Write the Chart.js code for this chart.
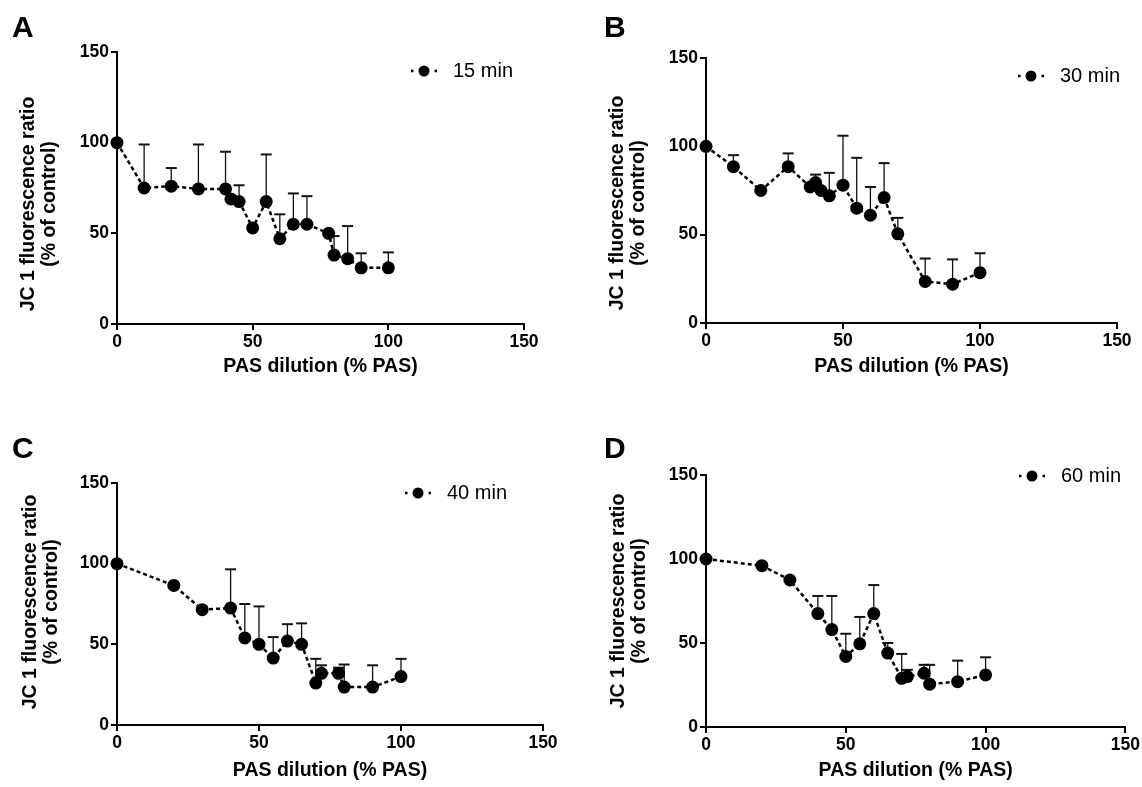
<!DOCTYPE html>
<html>
  <head>
    <title>JC 1 fluorescence ratio vs PAS dilution</title>
    <script src="https://cdn.jsdelivr.net/npm/chart.js@4.4.0/dist/chart.umd.min.js"></script>
    <style>
      body { margin: 0; background: #fff; }
      #wrap { position: relative; width: 1142px; height: 787px; }
      canvas { position: absolute; }
      .lbl { position: absolute; font: bold 30px "Liberation Sans", Arial, sans-serif; line-height: 30px; color: #000; }
    </style>
  </head>
  <body>
    <div id="wrap">
      <canvas id="chartA" width="571" height="393" style="left:0;top:0"></canvas>
      <canvas id="chartB" width="571" height="393" style="left:571px;top:0"></canvas>
      <canvas id="chartC" width="571" height="394" style="left:0;top:393px"></canvas>
      <canvas id="chartD" width="571" height="394" style="left:571px;top:393px"></canvas>
      <div class="lbl" style="left:12px;top:12px">A</div>
      <div class="lbl" style="left:604px;top:12px">B</div>
      <div class="lbl" style="left:12px;top:433px">C</div>
      <div class="lbl" style="left:604px;top:433px">D</div>
    </div>
    <script>
      // values (x = % PAS, y = % of control, err = upper error bar)
      var aX = [0, 10, 20, 30, 40, 42, 45, 50, 55, 60, 65, 70, 78, 80, 85, 90, 100];
      var aY = [100, 75, 76, 74.5, 74.5, 69, 67.5, 53, 67.5, 47, 55, 55, 50, 38, 36, 31, 31];
      var aErr = [null, 24, 10, 24.5, 20.5, null, 9, null, 26, 13.5, 17, 15.5, null, 10.5, 18, 8, 8.5];

      var bX = [0, 10, 20, 30, 38, 40, 42, 45, 50, 55, 60, 65, 70, 80, 90, 100];
      var bY = [100, 88.5, 75, 88.5, 77, 79.5, 75, 72, 78, 65, 61, 71, 50.5, 23.5, 22, 28.5];
      var bErr = [null, 6.5, null, 7.5, null, 4.5, null, 13, 28, 28.5, 16, 19.5, 9, 13, 14, 11];

      var cX = [0, 20, 30, 40, 45, 50, 55, 60, 65, 70, 72, 78, 80, 90, 100];
      var cY = [100, 86.5, 71.5, 72.5, 54, 50, 41.5, 52, 50, 26, 32, 32, 23.5, 23.5, 30];
      var cErr = [null, null, null, 24, 21, 23.5, 13, 10.5, 13, 15, 5, 3.5, 14, 13.5, 11];

      var dX = [0, 20, 30, 40, 45, 50, 55, 60, 65, 70, 72, 78, 80, 90, 100];
      var dY = [100, 96, 87.5, 67.5, 58, 42, 49.5, 67.5, 44, 29, 30, 32, 25.5, 27, 31];
      var dErr = [null, null, null, 10.5, 20, 13.5, 16, 17, 6, 14.5, 4, 5, 11.5, 12.5, 10.5];

      var xTicks = [0, 50, 100, 150];
      var yTicks = [0, 50, 100, 150];
      var yTitleLines = ["JC 1 fluorescence ratio", "(% of control)"];

      var FONT = "'Liberation Sans', Arial, sans-serif";

      function makePanel(id, xs, ys, errs, label, box) {
        var points = xs.map(function (x, i) {
          return { x: x, y: ys[i] };
        });

        // upward error bars, drawn under the points
        var errorBars = {
          id: "errorBars",
          beforeDatasetsDraw: function (chart) {
            var ctx = chart.ctx;
            var sx = chart.scales.x, sy = chart.scales.y;
            var ds = chart.data.datasets[0];
            ctx.save();
            ctx.strokeStyle = "#111";
            ds.data.forEach(function (p, i) {
              var e = ds.errors[i];
              if (e == null) return;
              var px = sx.getPixelForValue(p.x);
              var py = sy.getPixelForValue(p.y);
              var top = sy.getPixelForValue(p.y + e);
              ctx.lineWidth = 1.3;
              ctx.beginPath();
              ctx.moveTo(px, py);
              ctx.lineTo(px, top);
              ctx.stroke();
              ctx.lineWidth = 2;
              ctx.beginPath();
              ctx.moveTo(px - 5.5, top);
              ctx.lineTo(px + 5.5, top);
              ctx.stroke();
            });
            ctx.restore();
          },
        };

        // legend sample and rotated y title
        var extras = {
          id: "extras",
          afterDraw: function (chart) {
            var ctx = chart.ctx;
            ctx.save();
            ctx.strokeStyle = "#000";
            ctx.lineWidth = 2.5;
            ctx.setLineDash([2.5, 21]);
            ctx.beginPath();
            ctx.moveTo(box.legX - 13, box.legY);
            ctx.lineTo(box.legX + 13, box.legY);
            ctx.stroke();
            ctx.setLineDash([]);
            ctx.fillStyle = "#000";
            ctx.beginPath();
            ctx.arc(box.legX, box.legY, 5.5, 0, Math.PI * 2);
            ctx.fill();
            ctx.font = "20px " + FONT;
            ctx.textBaseline = "middle";
            ctx.textAlign = "left";
            ctx.fillText(label, box.legX + 29, box.legY);

            ctx.font = "bold 19.5px " + FONT;
            ctx.textAlign = "center";
            yTitleLines.forEach(function (t, i) {
              ctx.save();
              ctx.translate(box.yTitle + i * 21, box.yMid);
              ctx.rotate(-Math.PI / 2);
              ctx.fillText(t, 0, 0);
              ctx.restore();
            });
            ctx.restore();
          },
        };

        return new Chart(document.getElementById(id), {
          type: "line",
          data: {
            datasets: [
              {
                label: label,
                data: points,
                errors: errs,
                borderColor: "#000",
                borderWidth: 2.5,
                borderDash: [4, 3],
                backgroundColor: "#000",
                pointBackgroundColor: "#000",
                pointBorderWidth: 0,
                pointRadius: 6.5,
                tension: 0,
                clip: false,
              },
            ],
          },
          options: {
            responsive: false,
            animation: false,
            layout: {
              padding: { left: 0, top: box.top, right: box.w - box.right, bottom: 0 },
            },
            plugins: {
              legend: { display: false },
              tooltip: { enabled: false },
            },
            scales: {
              x: {
                type: "linear",
                min: 0,
                max: 150,
                afterBuildTicks: function (s) {
                  s.ticks = xTicks.map(function (v) { return { value: v }; });
                },
                afterFit: function (s) {
                  s.height = box.h - box.bottom;
                },
                grid: { drawOnChartArea: false, drawTicks: true, tickLength: 6, color: "#000", lineWidth: 2 },
                border: { display: true, color: "#000", width: 2 },
                ticks: { color: "#000", padding: 2, font: { family: FONT, size: 17.5, weight: "bold" } },
                title: {
                  display: true,
                  text: "PAS dilution (% PAS)",
                  color: "#000",
                  font: { family: FONT, size: 19.5, weight: "bold", lineHeight: 1.1 },
                  padding: { top: 0, bottom: box.h - box.xTitleY - 10.7 },
                },
              },
              y: {
                type: "linear",
                min: 0,
                max: 150,
                afterBuildTicks: function (s) {
                  s.ticks = yTicks.map(function (v) { return { value: v }; });
                },
                afterFit: function (s) {
                  s.width = box.left;
                },
                grid: { drawOnChartArea: false, drawTicks: true, tickLength: 6, color: "#000", lineWidth: 2 },
                border: { display: true, color: "#000", width: 2 },
                ticks: { color: "#000", padding: 2, font: { family: FONT, size: 17.5, weight: "bold" } },
              },
            },
          },
          plugins: [errorBars, extras],
        });
      }

      makePanel("chartA", aX, aY, aErr, "15 min",
        { w: 571, h: 393, left: 117, right: 524, top: 52, bottom: 324, legX: 424, legY: 71, yTitle: 29, yMid: 204, xTitleY: 367 });
      makePanel("chartB", bX, bY, bErr, "30 min",
        { w: 571, h: 393, left: 135, right: 546, top: 58, bottom: 323, legX: 460, legY: 76, yTitle: 47, yMid: 203, xTitleY: 367 });
      makePanel("chartC", cX, cY, cErr, "40 min",
        { w: 571, h: 394, left: 117, right: 543, top: 90, bottom: 332, legX: 418, legY: 100, yTitle: 31, yMid: 209, xTitleY: 378 });
      makePanel("chartD", dX, dY, dErr, "60 min",
        { w: 571, h: 394, left: 135, right: 556, top: 82, bottom: 334, legX: 461, legY: 83, yTitle: 48, yMid: 208, xTitleY: 378 });
    </script>
  </body>
</html>
